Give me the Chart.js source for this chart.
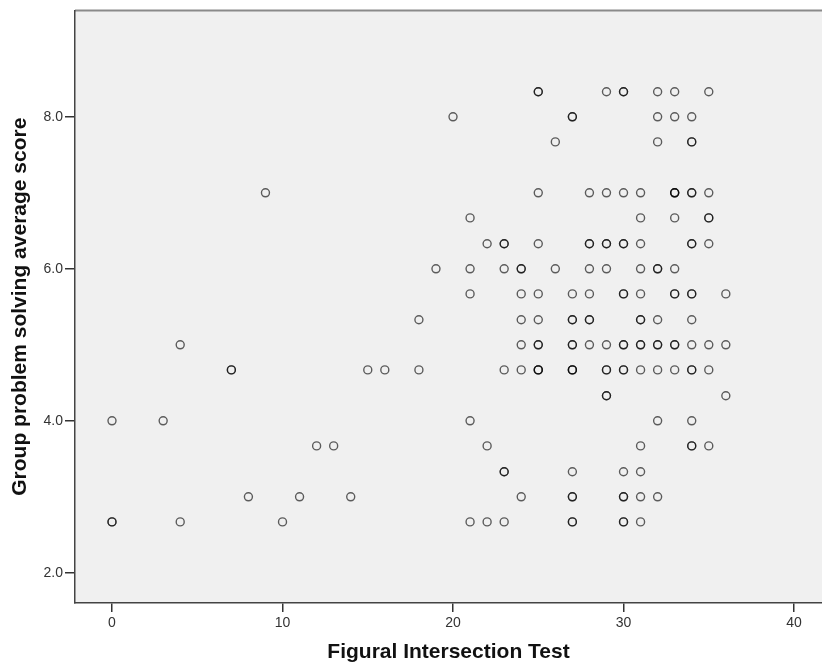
<!DOCTYPE html>
<html>
<head>
<meta charset="utf-8">
<script src="https://cdn.jsdelivr.net/npm/chart.js@4"></script>
<style>
    html, body { margin: 0; padding: 0; background: #fff; }
    #wrap { width: 822px; height: 666px; position: relative; }
</style>
</head>
<body>
<div id="wrap"><canvas id="scatter"></canvas></div>
<script>
// score levels (group average) and the test scores seen at each level
const scoreLevels = [8.33, 8.00, 7.67, 7.00, 6.67, 6.33, 6.00, 5.67, 5.33, 5.00, 4.67, 4.33, 4.00, 3.67, 3.33, 3.00, 2.67];
const testScores = [
    [25, 25, 29, 30, 30, 32, 33, 35],
    [20, 27, 27, 32, 33, 34],
    [26, 32, 34, 34],
    [9, 25, 28, 29, 30, 31, 33, 33, 33, 34, 34, 35],
    [21, 31, 33, 35, 35],
    [22, 23, 23, 25, 28, 28, 29, 29, 30, 30, 31, 34, 34, 35],
    [19, 21, 23, 24, 24, 26, 28, 29, 31, 32, 32, 33],
    [21, 24, 25, 27, 28, 30, 30, 31, 33, 33, 34, 34, 36],
    [18, 24, 25, 27, 27, 28, 28, 31, 31, 32, 34],
    [4, 24, 25, 25, 27, 27, 28, 29, 30, 30, 31, 31, 32, 32, 33, 33, 34, 35, 36],
    [7, 7, 15, 16, 18, 23, 24, 25, 25, 25, 27, 27, 27, 29, 29, 30, 30, 31, 32, 33, 34, 34, 35],
    [29, 29, 36],
    [0, 3, 21, 32, 34],
    [12, 13, 22, 31, 34, 34, 35],
    [23, 23, 27, 30, 31],
    [8, 11, 14, 24, 27, 27, 30, 30, 31, 32],
    [0, 0, 4, 10, 21, 22, 23, 27, 27, 30, 30, 31]
];

const xTicks = [0, 10, 20, 30, 40];
const yTicks = [2, 4, 6, 8];

const xTitle = 'Figural Intersection Test';
const yTitle = 'Group problem solving average score';

const points = [];
scoreLevels.forEach((level, i) => {
    testScores[i].forEach(x => points.push({ x: x, y: level }));
});

// plot background + top frame line
const plotFrame = {
    id: 'plotFrame',
    beforeDraw(chart) {
        const { ctx, chartArea: a } = chart;
        ctx.save();
        ctx.fillStyle = '#f0f0f0';
        ctx.fillRect(a.left, a.top, a.right - a.left, a.bottom - a.top);
        ctx.strokeStyle = '#8a8a8a';
        ctx.lineWidth = 2;
        ctx.beginPath();
        ctx.moveTo(a.left, a.top);
        ctx.lineTo(a.right, a.top);
        ctx.stroke();
        ctx.restore();
    }
};

const tickFont = { family: 'Liberation Sans, Arial, sans-serif', size: 14 };
const titleFont = { family: 'Liberation Sans, Arial, sans-serif', size: 21, weight: 'bold' };

new Chart(document.getElementById('scatter'), {
    type: 'scatter',
    data: {
        datasets: [{
            data: points,
            pointRadius: 4,
            pointHoverRadius: 4,
            pointBorderWidth: 1.4,
            pointBackgroundColor: 'rgba(0,0,0,0)',
            pointBorderColor: 'rgba(0,0,0,0.62)'
        }]
    },
    options: {
        responsive: true,
        maintainAspectRatio: false,
        animation: false,
        layout: { autoPadding: false, padding: { top: 8, right: 0, bottom: 0, left: 0 } },
        plugins: {
            legend: { display: false },
            tooltip: { enabled: false }
        },
        scales: {
            x: {
                type: 'linear',
                min: -2.17,
                max: 41.64,
                afterBuildTicks: s => { s.ticks = xTicks.map(v => ({ value: v })); },
                afterFit: s => { s.height = 63; },
                grid: { drawOnChartArea: false, drawTicks: true, tickLength: 9, color: '#333', lineWidth: 1.5 },
                border: { display: true, color: '#444', width: 1.5 },
                ticks: { font: tickFont, color: '#333', padding: 3, maxRotation: 0 },
                title: { display: true, text: xTitle, font: titleFont, color: '#111', padding: { top: 0, bottom: 1 } }
            },
            y: {
                type: 'linear',
                min: 1.603,
                max: 9.40,
                afterBuildTicks: s => { s.ticks = yTicks.map(v => ({ value: v })); },
                afterFit: s => { s.width = 75; },
                grid: { drawOnChartArea: false, drawTicks: true, tickLength: 10, color: '#333', lineWidth: 1.5 },
                border: { display: true, color: '#444', width: 1.5 },
                ticks: { font: tickFont, color: '#333', padding: 2, callback: v => v.toFixed(1) },
                title: { display: true, text: yTitle, font: titleFont, color: '#111', padding: { top: 8, bottom: 0 } }
            }
        }
    },
    plugins: [plotFrame]
});
</script>
</body>
</html>
